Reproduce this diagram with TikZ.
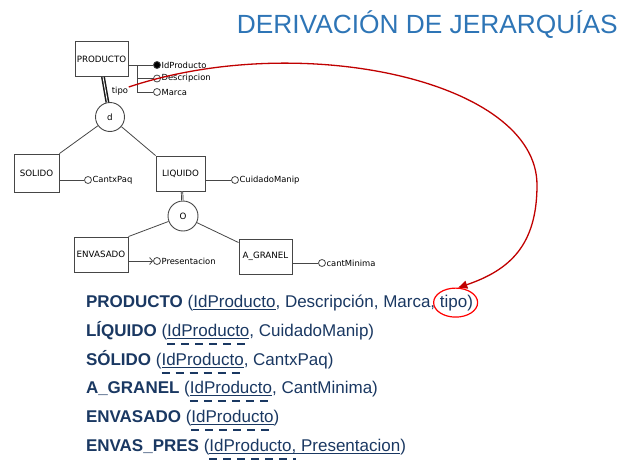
\documentclass[tikz,border=0pt]{standalone}
\usepackage{fontspec}
\setmainfont{Liberation Sans}
\newfontfamily\erfont{DejaVu Sans}
\usepackage{tikz}
\usetikzlibrary{
    arrows.meta,
    positioning,
    shapes.geometric
}

\definecolor{titleblue}{RGB}{46,117,182}
\definecolor{relnavy}{RGB}{26,56,98}
\definecolor{arrowred}{RGB}{192,0,0}
\definecolor{ergray}{RGB}{70,70,70}

\tikzset{
    entity/.style={draw=ergray, line width=0.9pt, inner sep=0pt,
        minimum height=35pt, font=\erfont\fontsize{8.7}{10}\selectfont},
    spec/.style={draw=ergray, circle, line width=0.9pt, inner sep=0pt,
        minimum size=29pt, font=\erfont\fontsize{8.7}{10}\selectfont},
    attr/.style={draw=ergray, circle, line width=0.8pt, inner sep=0pt,
        minimum size=7pt},
    keyattr/.style={attr, fill=black},
    attrlbl/.style={inner sep=0.5pt, font=\erfont\fontsize{8.4}{10}\selectfont},
    attrline/.style={draw=ergray, line width=0.8pt},
    isa/.style={draw=ergray, line width=0.8pt},
    dblthick/.style={draw=black!90, line width=1.5pt, double=white,
        double distance=0.9pt},
    dblthin/.style={draw=black!85, line width=0.7pt, double=white,
        double distance=0.8pt},
    rel/.style={inner sep=0pt, outer sep=0pt, text=relnavy,
        font=\fontsize{17}{20}\selectfont},
    pkline/.style={draw=relnavy, line width=0.9pt},
    fkline/.style={draw=relnavy, line width=1.8pt, dash pattern=on 8pt off 6pt},
    redarrow/.style={draw=arrowred, line width=1.3pt,
        -{Triangle[length=9pt, width=8pt]}}
}

\begin{document}
\begin{tikzpicture}[x=1pt,y=-1pt]

\useasboundingbox (0,0) rectangle (624,471);

% Title
\node[anchor=base east, inner sep=0pt, text=titleblue,
      font=\fontsize{26.3}{30}\selectfont] (title) at (618,33)
      {DERIVACIÓN DE JERARQUÍAS};

% Entities
\node[entity, minimum width=53pt] (producto) at (101.5,59) {PRODUCTO};
\node[entity, minimum width=45pt, minimum height=38pt] (solido) at (36.5,173) {SOLIDO};
\node[entity, minimum width=49pt] (liquido) at (180.5,173.5) {LIQUIDO};
\node[entity, minimum width=54pt] (envasado) at (101,254.5) {ENVASADO};
\node[entity, minimum width=53pt] (agranel) at (265.5,256.5) {A\_GRANEL};

% Specialisations
\node[spec] (d) at (110,117) {d};
\node[spec, minimum size=30pt] (o) at (183,216) {O};

\draw[dblthick] ([xshift=1.5pt]producto.south) -- (d);
\draw[isa] (d) -- (solido.north east);
\draw[isa] (d) -- (liquido.north west);
\draw[dblthin] ([xshift=1.5pt]liquido.south) -- (o);
\draw[isa] (o) -- (envasado.north east);
\draw[isa] (o) -- ([yshift=-4pt]agranel.north west);

% Attributes of PRODUCTO
\node[keyattr] (idprod) at (157,65) {};
\node[attr] (descr) at (157,78.5) {};
\node[attr] (marca) at (157,92) {};
\coordinate (prodbr) at (137,65);
\draw[attrline] (producto.east |- idprod) -- (idprod);
\draw[attrline] (prodbr) |- (descr);
\draw[attrline] (prodbr) |- (marca);
\node[attrlbl, right=0pt of idprod] (idprod-l) {IdProducto};
\node[attrlbl, right=0pt of descr] (descr-l) {Descripcion};
\node[attrlbl, right=0pt of marca] (marca-l) {Marca};
\node[attrlbl] (tipolbl) at (120,91) {tipo};

% Other attributes
\node[attr] (cantx) at (88,180) {};
\node[attr] (cuidado) at (235,180) {};
\node[attr] (present) at (157,261) {};
\node[attr] (cantmin) at (322,263) {};
\draw[attrline] (solido.east |- cantx) -- (cantx);
\draw[attrline] (liquido.east |- cuidado) -- (cuidado);
\draw[attrline, -{Straight Barb[length=3pt, width=7pt]}]
    (envasado.east |- present) -- (present);
\draw[attrline] (agranel.east |- cantmin) -- (cantmin);
\node[attrlbl, right=0pt of cantx] (cantx-l) {CantxPaq};
\node[attrlbl, right=0pt of cuidado] (cuidado-l) {CuidadoManip};
\node[attrlbl, right=0pt of present] (present-l) {Presentacion};
\node[attrlbl, right=0pt of cantmin] (cantmin-l) {cantMinima};

% Relations
\node[rel, anchor=base west] (n1) at (86,307) {\textbf{PRODUCTO} (};
\node[rel, right=0pt of n1.base east, anchor=base west] (k1) {IdProducto};
\node[rel, right=0pt of k1.base east, anchor=base west] (r1) {, Descripción, Marca,};
\node[rel, right=4.7pt of r1.base east, anchor=base west] (t1) {tipo};
\node[rel, right=0pt of t1.base east, anchor=base west] (e1) {)};

\node[rel, anchor=base west] (n2) at (86,336) {\textbf{LÍQUIDO} (};
\node[rel, right=0pt of n2.base east, anchor=base west] (k2) {IdProducto};
\node[rel, right=0pt of k2.base east, anchor=base west] (r2) {, CuidadoManip)};

\node[rel, anchor=base west] (n3) at (86,365) {\textbf{SÓLIDO} (};
\node[rel, right=0pt of n3.base east, anchor=base west] (k3) {IdProducto};
\node[rel, right=0pt of k3.base east, anchor=base west] (r3) {, CantxPaq)};

\node[rel, anchor=base west] (n4) at (86,393) {\textbf{A\_GRANEL} (};
\node[rel, right=0pt of n4.base east, anchor=base west] (k4) {IdProducto};
\node[rel, right=0pt of k4.base east, anchor=base west] (r4) {, CantMinima)};

\node[rel, anchor=base west] (n5) at (86,422) {\textbf{ENVASADO} (};
\node[rel, right=0pt of n5.base east, anchor=base west] (k5) {IdProducto};
\node[rel, right=0pt of k5.base east, anchor=base west] (r5) {)};

\node[rel, anchor=base west] (n6) at (86,451) {\textbf{ENVAS\_PRES} (};
\node[rel, right=0pt of n6.base east, anchor=base west] (k6) {IdProducto,};
\node[rel, right=4.7pt of k6.base east, anchor=base west] (p6) {Presentacion};
\node[rel, right=0pt of p6.base east, anchor=base west] (r6) {)};

% Keys
\foreach \k in {k1,k2,k3,k4,k5}{
    \draw[pkline] ([yshift=-2.5pt]\k.base west) -- ([yshift=-2.5pt]\k.base east);
}
\draw[pkline] ([yshift=-2.5pt]k6.base west) -- ([yshift=-2.5pt]p6.base east);
\foreach \k in {k2,k3,k4,k5,k6}{
    \draw[fkline] ([yshift=-8pt]\k.base west) -- ([yshift=-8pt]\k.base east);
}

% tipo
\node[draw=red, ellipse, line width=1.2pt, minimum width=44pt,
      minimum height=29pt] (tipoloop) at ([xshift=2pt]t1.center) {};
\coordinate (bend) at (537,185);
\draw[redarrow] ([yshift=4pt]tipolbl.east)
    .. controls (300,30) and (537,80) .. (bend)
    .. controls (537,245) and (510,270) .. (tipoloop.80);

\end{tikzpicture}
\end{document}
